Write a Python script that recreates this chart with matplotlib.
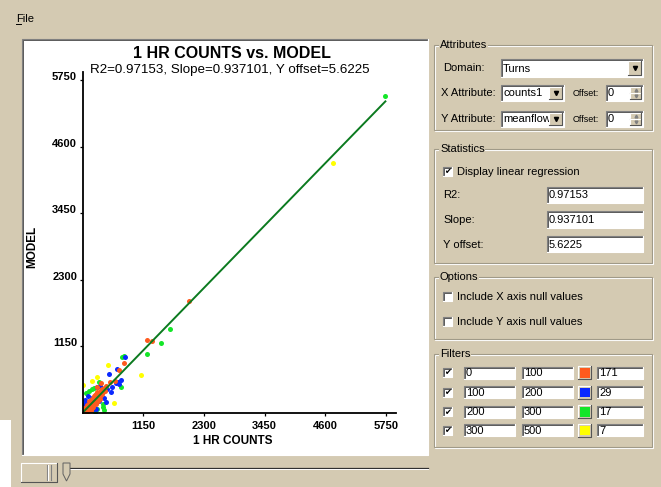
import numpy as np
import matplotlib
matplotlib.use('Agg')
import matplotlib.pyplot as plt
from matplotlib.patches import Rectangle, Polygon

plt.rcParams['font.family'] = ['Liberation Sans', 'DejaVu Sans']

BG = '#d4cab2'
W, H = 661, 487

##### chart text and regression stats #####
title = '1 HR COUNTS vs. MODEL'
x_label = '1 HR COUNTS'
y_label = 'MODEL'
r2 = 0.97153
slope = 0.937101
yoff = 5.6225
tick_vals = [1150, 2300, 3450, 4600, 5750]

##### filter bins (low, high, colour, count) #####
bin_low = [0, 100, 200, 300]
bin_high = [100, 200, 300, 500]
bin_colors = ['#ff5a1e', '#0a28ff', '#14e628', '#ffff00']
bin_counts = [171, 29, 17, 7]

##### points #####
orange_x = [2022, 1226, 1309, 790, 690, 519, 614, 343, 267,
            20, 35, 50, 60, 75, 80, 95, 110, 120, 130, 140, 150, 160, 170, 180,
            190, 200, 210, 220, 230, 240, 250, 260, 270, 280, 290, 300, 310, 320,
            330, 340, 350, 360, 375, 390, 400, 420, 440, 150, 180, 90, 60, 40,
            100, 200, 250, 230, 270, 300, 330, 15, 30, 120, 170, 210, 260, 55,
            10, 153, 362]
orange_y = [1940, 1264, 1247, 861, 745, 542, 559, 514, 456,
            15, 40, 30, 70, 55, 95, 80, 120, 95, 150, 115, 170, 135, 190, 150,
            210, 175, 235, 190, 250, 205, 270, 230, 300, 250, 320, 270, 340, 290,
            360, 310, 390, 330, 410, 360, 430, 380, 470, 60, 90, 140, 110, 80,
            40, 110, 160, 310, 360, 200, 240, 60, 10, 200, 240, 290, 330, 5,
            30, 52, 369]

blue_x = [809, 658, 506, 677, 728, 695, 627, 330, 279, 551, 462, 316, 254, 27,
          108, 64, 140, 178, 102, 45, 216, 64, 406, 538, 368, 140, 197, 27, 443]
blue_y = [975, 762, 675, 532, 572, 497, 514, 468, 445, 445, 416, 213, 64, 156,
          178, 52, 121, 260, 294, 225, 156, 104, 260, 364, 346, 191, 69, 17, 191]

green_x = [5736, 1656, 1480, 1226, 741, 775, 316, 722, 172, 127, 64, 381, 279,
           235, 387, 216, 406]
green_y = [5468, 1450, 1207, 1017, 975, 987, 532, 445, 410, 386, 352, 99, 64,
           17, 156, 433, 52]

yellow_x = [4739, 13, 487, 1101, 279, 184, 595]
yellow_y = [4325, 485, 826, 658, 618, 559, 178]


fig = plt.figure(figsize=(W / 100, H / 100), dpi=100)
fig.patch.set_facecolor(BG)

###gui layer in pixel coordinates (y down)###
gui = fig.add_axes([0, 0, 1, 1], zorder=0)
gui.set_xlim(0, W)
gui.set_ylim(H, 0)
gui.axis('off')


def sunken(x, y, w, h, face='white'):
    gui.add_patch(Rectangle((x, y), w, h, facecolor=face, edgecolor='none'))
    gui.plot([x, x, x + w], [y + h, y, y], color='#808080', lw=0.8)
    gui.plot([x + 1, x + 1, x + w - 1], [y + h - 1, y + 1, y + 1], color='#404040', lw=0.6)
    gui.plot([x + w, x + w, x], [y, y + h, y + h], color='white', lw=0.8)


def raised(x, y, w, h, z=3):
    gui.add_patch(Rectangle((x, y), w, h, facecolor=BG, edgecolor='none', zorder=z))
    gui.plot([x, x, x + w], [y + h, y, y], color='white', lw=0.8, zorder=z)
    gui.plot([x + w, x + w, x], [y, y + h, y + h], color='#555555', lw=0.8, zorder=z)


def groupbox(x, y, w, h, label):
    gui.add_patch(Rectangle((x + 1, y + 1), w, h, fill=False, edgecolor='white', lw=0.8))
    gui.add_patch(Rectangle((x, y), w, h, fill=False, edgecolor='#a09a88', lw=0.8))
    gui.text(x + 6, y, label, fontsize=8, va='center',
             bbox=dict(facecolor=BG, edgecolor='none', pad=0.6))


def textbox(x, y, w, h, txt):
    sunken(x, y, w, h)
    gui.text(x + 2, y + h / 2 + 0.5, txt, fontsize=8, va='center', zorder=2)


def combo(x, y, w, h, txt):
    textbox(x, y, w, h, txt)
    raised(x + w - 15, y + 2, 13, h - 4)
    gui.plot(x + w - 8.5, y + h / 2, marker='v', color='black', ms=3, zorder=4)


def spin(x, y, w, h, txt):
    textbox(x, y, w, h, txt)
    raised(x + w - 13, y + 2, 11, (h - 4) / 2)
    raised(x + w - 13, y + h / 2, 11, (h - 4) / 2)
    gui.plot(x + w - 7.5, y + h / 2 - 3, marker='^', color='#808080', ms=2, zorder=4)
    gui.plot(x + w - 7.5, y + h / 2 + 3, marker='v', color='#808080', ms=2, zorder=4)


def checkbox(x, y, checked):
    sunken(x, y, 9, 9)
    if checked:
        gui.text(x + 4.8, y + 4.8, '\u2714', fontsize=6, ha='center', va='center',
                 family='DejaVu Sans')


###menu###
gui.text(16, 19, 'File', fontsize=8, va='center')
gui.plot([16, 21], [24, 24], color='black', lw=0.7)

###plot panel###
sunken(21.7, 39, 406, 416)

###slider###
raised(21, 463, 36, 19)
gui.plot([47, 47], [465, 480], color='#808080', lw=0.8, zorder=4)
gui.plot([48, 48], [465, 480], color='white', lw=0.8, zorder=4)
gui.plot([51, 51], [465, 480], color='#808080', lw=0.8, zorder=4)
gui.plot([70, 428], [468, 468], color='#303030', lw=0.9)
gui.plot([70, 428], [469.3, 469.3], color='white', lw=0.7)
gui.add_patch(Polygon([(63, 463), (70, 463), (70, 474), (66.5, 481), (63, 474)],
                      closed=True, facecolor=BG, edgecolor='#606060', lw=0.7, zorder=4))

gui.add_patch(Rectangle((0, 420), 11, 67, facecolor='white', edgecolor='none'))

###attributes###
groupbox(434, 45, 218, 85, 'Attributes')
gui.text(443, 68, 'Domain:', fontsize=8, va='center')
combo(501, 59, 142, 18, 'Turns')
gui.text(441, 93, 'X Attribute:', fontsize=8, va='center')
combo(501, 85, 63, 16, 'counts1')
gui.text(573, 93, 'Offset:', fontsize=6.5, va='center')
spin(606, 85, 37, 16, '0')
gui.text(441, 119, 'Y Attribute:', fontsize=8, va='center')
combo(501, 111, 63, 16, 'meanflow(')
gui.text(573, 119, 'Offset:', fontsize=6.5, va='center')
spin(606, 111, 37, 16, '0')

###statistics###
groupbox(434, 149, 218, 114, 'Statistics')
checkbox(443, 167, True)
gui.text(457, 172, 'Display linear regression', fontsize=8, va='center')
gui.text(443, 195, 'R2:', fontsize=8, va='center')
textbox(547, 187, 96, 16, str(r2))
gui.text(443, 220, 'Slope:', fontsize=8, va='center')
textbox(547, 211, 96, 17, str(slope))
gui.text(443, 245, 'Y offset:', fontsize=8, va='center')
textbox(547, 236, 96, 16, str(yoff))

###options###
groupbox(434, 277, 218, 62, 'Options')
checkbox(443, 292, False)
gui.text(457, 297, 'Include X axis null values', fontsize=8, va='center')
checkbox(443, 317, False)
gui.text(457, 322, 'Include Y axis null values', fontsize=8, va='center')

###filters###
groupbox(434, 354, 218, 93, 'Filters')
row_y = [372.7, 392, 411.7, 430]
for ry, lo, hi, col, cnt in zip(row_y, bin_low, bin_high, bin_colors, bin_counts):
    checkbox(443, ry - 4.5, True)
    textbox(464, ry - 6, 51, 12, str(lo))
    textbox(522, ry - 6, 51, 12, str(hi))
    raised(578, ry - 6.5, 13, 13)
    gui.add_patch(Rectangle((580, ry - 4.5), 9.5, 9.5, facecolor=col, edgecolor='none', zorder=4))
    textbox(597, ry - 6, 46, 12, str(cnt))

###chart###
gui.text(231.5, 53, title, fontsize=11.5, fontweight='bold', ha='center', va='center')
gui.text(230, 70, 'R2=%s, Slope=%s, Y offset=%s' % (r2, slope, yoff),
         fontsize=9.6, ha='center', va='center')

ax = fig.add_axes([82.6 / W, (H - 413) / H, (396 - 82.6) / W, (413 - 72) / H], zorder=2)
ax.patch.set_alpha(0)
ax.set_xlim(0, 5937)
ax.set_ylim(0, 5888)

ax.scatter(yellow_x, yellow_y, s=13, color=bin_colors[3], linewidths=0)
ax.scatter(green_x, green_y, s=13, color=bin_colors[2], linewidths=0)
ax.scatter(blue_x, blue_y, s=13, color=bin_colors[1], linewidths=0)
ax.scatter(orange_x, orange_y, s=13, color=bin_colors[0], linewidths=0)

all_x = orange_x + blue_x + green_x + yellow_x
fit_x = np.array([min(all_x), max(all_x)])
ax.plot(fit_x, yoff + slope * fit_x, color='#0b7a1f', lw=1.4)

for s in ['top', 'right']:
    ax.spines[s].set_visible(False)
for s in ['left', 'bottom']:
    ax.spines[s].set_linewidth(1.3)
ax.set_xticks(tick_vals)
ax.set_yticks(tick_vals)
ax.tick_params(axis='both', direction='out', length=2.5, width=0.9, labelsize=8)
ax.tick_params(axis='x', pad=3)
ax.tick_params(axis='y', pad=1.5)
for lbl in ax.get_xticklabels() + ax.get_yticklabels():
    lbl.set_fontweight('bold')
for lbl in ax.get_yticklabels():
    lbl.set_va('baseline')

ax.set_xlabel(x_label, fontsize=8.5, fontweight='bold')
ax.xaxis.set_label_coords((233 - 82.6) / 313.4, (413 - 434.5) / 341)
ax.set_ylabel(y_label, fontsize=8.5, fontweight='bold')
ax.yaxis.set_label_coords((38 - 82.6) / 313.4, (413 - 247) / 341)

fig.savefig('out.png', dpi=100, facecolor=BG)
